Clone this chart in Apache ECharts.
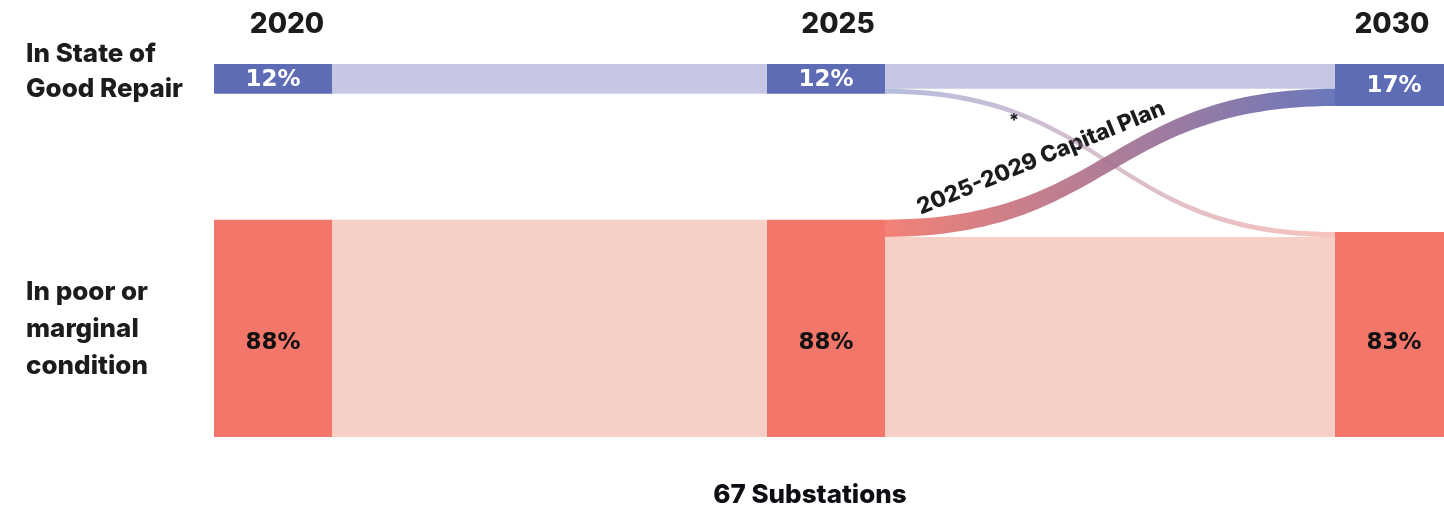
<!DOCTYPE html>
<html>
<head>
<meta charset="utf-8">
<script src="https://cdn.jsdelivr.net/npm/echarts@6/dist/echarts.min.js"></script>
<style>
html,body{margin:0;padding:0;background:#fff;}
#chart{width:1444px;height:508px;}
</style>
</head>
<body>
<div id="chart"></div>
<script>
// ---- data ----
const years = ['2020', '2025', '2030'];
const goodShare = [12, 12, 17];          // % in state of good repair
const poorShare = [88, 88, 83];          // % in poor or marginal condition
// flows between consecutive years (index 0: 2020->2025, index 1: 2025->2030)
const goodToGood = [12, 10];
const goodToPoor = [0, 2];
const poorToGood = [0, 7];
const poorToPoor = [88, 81];
const rowLabels = ['In State of\nGood Repair', 'In poor or\nmarginal\ncondition'];
const capitalPlanLabel = '2025-2029 Capital Plan';
const footnoteMark = '*';
const chartTitle = '67 Substations';

// ---- styles ----
const GOOD_NODE = '#5d6cb5';
const POOR_NODE = '#f2776a';
const GOOD_LINK = '#c6c8e3';
const POOR_LINK = '#f6d0c6';
const TEXT = '#1c1c1e';
const FONT = 'Inter, "Liberation Sans", sans-serif';
const PCT_FONT = '"DejaVu Sans", Inter, sans-serif';

const W = 1239, H = 373;
const nodeXs = [0, 553 / W, 1121 / W];
const ky = 2.47;

const nodes = [];
years.forEach((y, i) => {
  nodes.push({
    name: y + ' good', value: goodShare[i], localX: nodeXs[i], localY: 0,
    itemStyle: { color: GOOD_NODE },
    label: { color: '#ffffff', offset: [0, 1] }
  });
  nodes.push({
    name: y + ' poor', value: poorShare[i], localX: nodeXs[i],
    localY: (H - poorShare[i] * ky) / H,
    itemStyle: { color: POOR_NODE },
    label: { color: '#111111', offset: [0, i === 2 ? 9 : 15] }
  });
});

const links = [];
for (let i = 0; i < years.length - 1; i++) {
  const a = years[i], b = years[i + 1];
  if (goodToGood[i]) links.push({ source: a + ' good', target: b + ' good', value: goodToGood[i], lineStyle: { color: GOOD_LINK, opacity: 1 } });
  if (poorToPoor[i]) links.push({ source: a + ' poor', target: b + ' poor', value: poorToPoor[i], lineStyle: { color: POOR_LINK, opacity: 1 } });
  if (goodToPoor[i]) links.push({ source: a + ' good', target: b + ' poor', value: goodToPoor[i], lineStyle: { color: 'gradient', opacity: 0.45 } });
  if (poorToGood[i]) links.push({ source: a + ' poor', target: b + ' good', value: poorToGood[i], lineStyle: { color: 'gradient', opacity: 0.92 } });
}

const chart = echarts.init(document.getElementById('chart'), null, { renderer: 'canvas' });
const yearXs = [287, 838, 1392];

chart.setOption({
  backgroundColor: '#ffffff',
  animation: false,
  series: [{
    type: 'sankey',
    left: 214, top: 64, width: W, height: H,
    nodeWidth: 118,
    nodeGap: H - 100 * ky,
    layoutIterations: 0,
    draggable: false,
    emphasis: { disabled: true },
    data: nodes,
    links: links,
    label: {
      show: true,
      position: 'inside',
      fontFamily: PCT_FONT,
      fontWeight: 'bold',
      fontSize: 23,
      formatter: p => p.value + '%'
    },
    lineStyle: { curveness: 0.5 },
    itemStyle: { borderWidth: 0 }
  }],
  graphic: [
    ...years.map((y, i) => ({
      type: 'text', x: yearXs[i], y: 25,
      style: { text: y, fill: TEXT, font: '800 28px ' + FONT, textAlign: 'center', textVerticalAlign: 'middle' }
    })),
    {
      type: 'text', x: 26, y: 72,
      style: { text: rowLabels[0], fill: TEXT, font: '800 26px ' + FONT, lineHeight: 35, textAlign: 'left', textVerticalAlign: 'middle' }
    },
    {
      type: 'text', x: 26, y: 329,
      style: { text: rowLabels[1], fill: TEXT, font: '800 26px ' + FONT, lineHeight: 37, textAlign: 'left', textVerticalAlign: 'middle' }
    },
    {
      type: 'text', x: 1041, y: 158, rotation: 0.39,
      style: { text: capitalPlanLabel, fill: TEXT, font: '800 22.5px ' + FONT, textAlign: 'center', textVerticalAlign: 'middle' }
    },
    {
      type: 'text', x: 1014, y: 121,
      style: { text: footnoteMark, fill: TEXT, font: '800 18px ' + FONT, textAlign: 'center', textVerticalAlign: 'middle' }
    },
    {
      type: 'text', x: 810, y: 495,
      style: { text: chartTitle, fill: '#0d0d14', font: '800 26px ' + FONT, textAlign: 'center', textVerticalAlign: 'middle' }
    }
  ]
});
</script>
</body>
</html>
